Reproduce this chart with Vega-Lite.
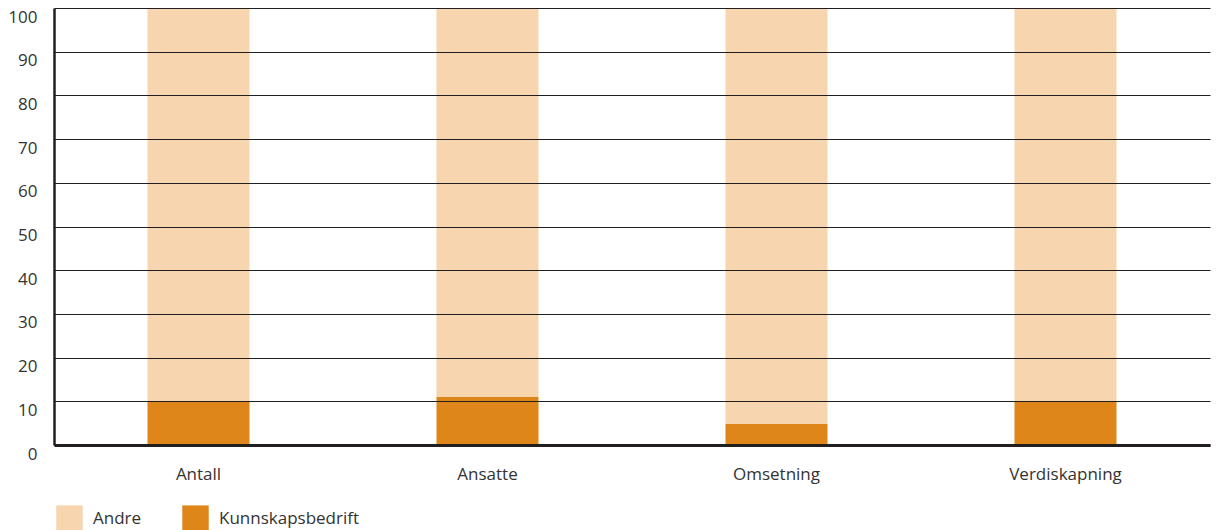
{
  "$schema": "https://vega.github.io/schema/vega-lite/v6.json",
  "autosize": {"type": "none"},
  "width": 1156,
  "height": 437,
  "padding": {"left": 54, "top": 8, "right": 6, "bottom": 85},
  "background": "white",
  "config": {
    "font": "Open Sans",
    "view": {"stroke": null},
    "axis": {"labelColor": "#333333", "labelFontSize": 17, "ticks": false, "title": null, "labelFont": "Open Sans"}
  },
  "data": {
    "values": [
      {"kategori": "Antall", "gruppe": "Kunnskapsbedrift", "andel": 10, "rekkefolge": 1},
      {"kategori": "Antall", "gruppe": "Andre", "andel": 90, "rekkefolge": 2},
      {"kategori": "Ansatte", "gruppe": "Kunnskapsbedrift", "andel": 11, "rekkefolge": 1},
      {"kategori": "Ansatte", "gruppe": "Andre", "andel": 89, "rekkefolge": 2},
      {"kategori": "Omsetning", "gruppe": "Kunnskapsbedrift", "andel": 4.8, "rekkefolge": 1},
      {"kategori": "Omsetning", "gruppe": "Andre", "andel": 95.2, "rekkefolge": 2},
      {"kategori": "Verdiskapning", "gruppe": "Kunnskapsbedrift", "andel": 10, "rekkefolge": 1},
      {"kategori": "Verdiskapning", "gruppe": "Andre", "andel": 90, "rekkefolge": 2}
    ]
  },
  "mark": {"type": "bar"},
  "encoding": {
    "x": {
      "field": "kategori",
      "type": "nominal",
      "sort": ["Antall", "Ansatte", "Omsetning", "Verdiskapning"],
      "scale": {"paddingInner": 0.647, "paddingOuter": 0.3235},
      "axis": {
        "labelAngle": 0,
        "labelPadding": 21,
        "domainColor": "#231f20",
        "domainWidth": 3,
        "zindex": 1
      }
    },
    "y": {
      "field": "andel",
      "type": "quantitative",
      "stack": "zero",
      "scale": {"domain": [0, 100], "nice": false},
      "axis": {
        "values": [0, 10, 20, 30, 40, 50, 60, 70, 80, 90, 100],
        "grid": true,
        "gridColor": "#231f20",
        "gridWidth": 1.2,
        "gridOpacity": 1,
        "domainColor": "#231f20",
        "domainWidth": 2.5,
        "labelPadding": 17,
        "labelBaseline": "top",
        "labelOffset": 1,
        "zindex": 1
      }
    },
    "color": {
      "field": "gruppe",
      "type": "nominal",
      "scale": {"domain": ["Andre", "Kunnskapsbedrift"], "range": ["#f6d5af", "#de8619"]},
      "legend": {
        "title": null,
        "orient": "none",
        "direction": "horizontal",
        "legendX": 2,
        "legendY": 497,
        "symbolType": "square",
        "symbolSize": 700,
        "symbolStrokeWidth": 0,
        "symbolOpacity": 1,
        "labelFontSize": 17,
        "labelColor": "#333333",
        "labelFont": "Open Sans",
        "labelOffset": 10,
        "columnPadding": 40
      }
    },
    "order": {"field": "rekkefolge", "type": "quantitative"}
  }
}
